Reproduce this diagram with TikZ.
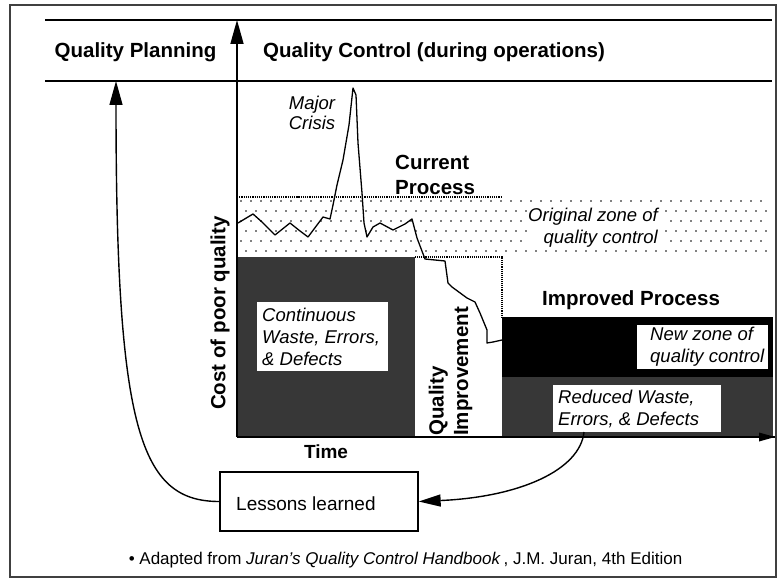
\documentclass[tikz,border=0pt]{standalone}
\usepackage{fontspec}
\setmainfont{Liberation Sans}
\usetikzlibrary{arrows.meta}
\definecolor{stip}{RGB}{55,55,55}
\begin{document}
\begin{tikzpicture}[x=1bp,y=-1bp,
  boldlbl/.style={font=\fontsize{20.5bp}{24.5bp}\selectfont\bfseries, inner sep=0pt},
  itallbl/.style={font=\fontsize{18.5bp}{22bp}\selectfont\itshape, inner sep=0pt},
  plainlbl/.style={font=\fontsize{19bp}{22bp}\selectfont, inner sep=0pt},
  whitebox/.style={fill=white, draw=none, inner sep=0pt, anchor=north west},
  axisline/.style={line width=1.6bp},
  bigtip/.style={-{Triangle[length=24bp,width=13bp]}},
  curveline/.style={line width=1.4bp},
]
\useasboundingbox (0,0) rectangle (779,579);
\fill[white] (0,0) rectangle (779,579);
\draw[line width=2bp, black!75] (10,5) rectangle (776,577);

% header lines
\draw[line width=1.5bp] (45,20) -- (772,20);
\draw[line width=1.5bp] (45,81) -- (772,81);

% dotted zone of quality control
\foreach \r in {0,...,5} {
  \pgfmathsetmacro{\yy}{201+10*\r}
  \pgfmathsetmacro{\off}{mod(\r,2)*5}
  \foreach \c in {0,...,52} {
    \fill ({241+\off+10*\c},\yy) circle (0.9bp);
  }
}
\draw[densely dotted, line width=1.2bp] (237,197) -- (502,197);
\draw[densely dotted, line width=1.1bp] (415,257) -- (502,257) -- (502,317);

% dark regions
\fill[stip] (237,257) rectangle (415,437);
\fill[black] (502,317) rectangle (773,377);
\fill[stip] (502,377) rectangle (773,437);

% white text boxes
\node (origbg) [whitebox, minimum width=136bp, minimum height=43bp] at (527,205) {};
\node (contbg) [whitebox, minimum width=131bp, minimum height=69bp] at (257,302) {};
\node (newbg) [whitebox, minimum width=131bp, minimum height=44bp] at (637,325) {};
\node (redbg) [whitebox, minimum width=168bp, minimum height=47bp] at (553,385) {};

% texts
\node (qplabel) [boldlbl] at (135.5,52) {Quality Planning};
\node (qclabel) [boldlbl, anchor=west] at (263,52) {Quality Control (during operations)};
\node (crisis) [itallbl, align=center] at (312,113) {Major\\[-2bp]Crisis};
\node (current) [boldlbl, align=left, anchor=west] at (395,175) {Current\\Process};
\node (orig) [itallbl, align=right, anchor=east] at (658,228) {Original zone of\\quality control};
\node (cont) [itallbl, align=left, anchor=west] at (262,337) {Continuous\\Waste, Errors,\\\& Defects};
\node (cost) [boldlbl, rotate=90] at (220,313) {Cost of poor quality};
\node (qi) [boldlbl, rotate=90, anchor=west, align=left] at (450.5,436) {Quality\\Improvement};
\node (improved) [boldlbl, anchor=west] at (542,300) {Improved Process};
\node (newzone) [itallbl, align=left, anchor=west] at (650,347) {New zone of\\quality control};
\node (reduced) [itallbl, align=left, anchor=west] at (558,409) {Reduced Waste,\\Errors, \& Defects};
\node (time) [font=\fontsize{19bp}{22bp}\selectfont\bfseries, inner sep=0pt] at (326,452) {Time};
\node (lessons) [draw, line width=1.3bp, minimum width=198bp, minimum height=59bp, inner sep=0pt] at (319,501.5) {};
\node (lessonstxt) [plainlbl, anchor=west] at (236,504) {Lessons learned};
\node (foot) [font=\fontsize{17bp}{20bp}\selectfont, inner sep=0pt] at (405.5,560)
  {\textbullet\ Adapted from \textit{Juran's Quality Control Handbook}\,, J.M. Juran, 4th Edition};

% quality level curve
\draw[line width=1.3bp, line join=round]
  (238,223) -- (253,214) -- (262,222) -- (275,235) -- (290,223) -- (300,231)
  -- (308,237) -- (323,217) -- (330,219) -- (333,205) -- (337,185) -- (343,160)
  -- (349,125) -- (353,88) -- (356,95) -- (358,143) -- (362,193) -- (364,223)
  -- (367,237) -- (373,227) -- (380,223) -- (393,230) -- (405,224) -- (412,219)
  -- (417,238) -- (425,259) -- (445,261) -- (448,283) -- (452,287) -- (467,298)
  -- (475,302) -- (480,313) -- (487,330) -- (487,343) -- (493,342) -- (502,340);

% axes
\coordinate (origin) at (237,437);
\coordinate (ytop) at (237,20);
\coordinate (xend) at (775,437);
\draw[axisline] (origin) -- (xend);
\fill[black] (xend) -- ++(-16,-4.5) -- ++(0,9) -- cycle;
\draw[axisline, bigtip] (origin) -- (ytop);

% feedback arrows
\coordinate (qptip) at (116,81);
\coordinate (rstart) at (584,432);
\draw[curveline, bigtip] (lessons.west) .. controls (140,501.5) and (116,430) .. (qptip);
\draw[curveline, -{Triangle[length=22bp,width=12bp]}] (rstart) .. controls (580,470) and (520,497) .. (lessons.east);
\end{tikzpicture}
\end{document}
